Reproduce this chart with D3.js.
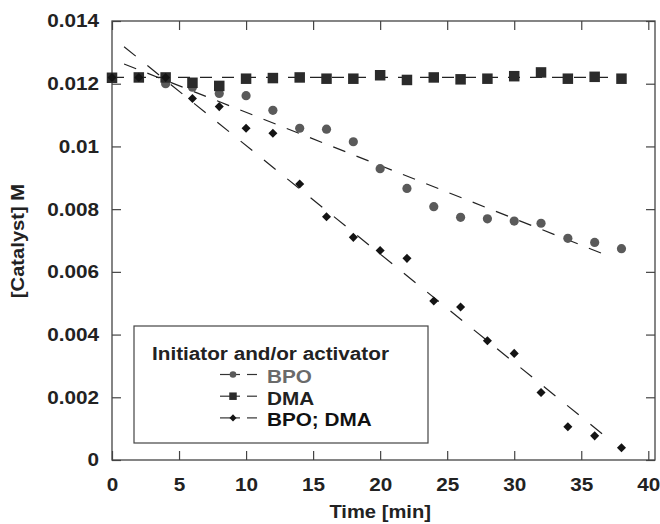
<!DOCTYPE html>
<head>
<meta charset="utf-8">
<style>
body { margin:0; background:#fff; }
text { font-family:'Liberation Sans', Arial, sans-serif; font-weight:700; fill:#222; }
.axis path.domain { display:none; }
.axis line { stroke:#444; stroke-width:1.2; }
</style>
</head>
<body>
<div id="chart1"></div>
<script src="https://d3js.org/d3.v7.min.js"></script>
<script>

// data
var times  = [0, 2, 4, 6, 8, 10, 12, 14, 16, 18, 20, 22, 24, 26, 28, 30, 32, 34, 36, 38];
var bpo    = [0.0122, 0.0122, 0.0120, 0.01189, 0.01169, 0.01162, 0.01115, 0.01058, 0.01055, 0.01015,
              0.00929, 0.00866, 0.00808, 0.00774, 0.00769, 0.00762, 0.00755, 0.00707, 0.00694, 0.00674];
var dma    = [0.01219, 0.0122, 0.0122, 0.01203, 0.01193, 0.01216, 0.01218, 0.0122, 0.01216, 0.01216,
              0.01227, 0.01212, 0.0122, 0.01214, 0.01216, 0.01224, 0.01236, 0.01216, 0.01222, 0.01216];
var bpoDma = [0.0122, 0.0122, 0.0122, 0.01153, 0.01127, 0.01058, 0.01042, 0.0088, 0.00776, 0.0071,
              0.00668, 0.00643, 0.00507, 0.00488, 0.0038, 0.0034, 0.00215, 0.00106, 0.00077, 0.00039];

// dashed fit lines, [time, conc]
var dmaFit    = [[0, 0.0122], [38.3, 0.0122]];
var bpoFit    = [[0.9, 0.01263], [37.3, 0.00646]];
var bpoDmaFit = [[0.9, 0.01318], [37.3, 0.00058]];

var xTicks = [0, 5, 10, 15, 20, 25, 30, 35, 40];
var yTicks = [0, 0.002, 0.004, 0.006, 0.008, 0.01, 0.012, 0.014];
var seriesNames = ["BPO", "DMA", "BPO; DMA"];

var W = 660, H = 524;
var plot = {left:112, right:655, top:21, bottom:460};
var stretch = "scale(1.12,1)";

var svg = d3.select('#chart1').append('svg')
    .attr('width', W).attr('height', H);

var xScale = d3.scaleLinear().domain([0, 40.5]).range([plot.left, plot.right]),
    yScale = d3.scaleLinear().domain([0, 0.014]).range([plot.bottom, plot.top]);

var fmt = function(d) { return String(+d.toFixed(3)); };

// axes, ticks pointing inward on all four sides
var gx = svg.append("g").attr("class", "axis")
    .attr("transform", "translate(0," + plot.bottom + ")")
    .call(d3.axisBottom(xScale).tickValues(xTicks).tickSizeInner(-9).tickSizeOuter(0).tickPadding(18));
gx.selectAll("text").attr("x", 0).attr("transform", stretch)
    .style("font-size", "18.5px").attr("fill", "#222");

var gy = svg.append("g").attr("class", "axis")
    .attr("transform", "translate(" + plot.left + ",0)")
    .call(d3.axisLeft(yScale).tickValues(yTicks).tickFormat(fmt).tickSizeInner(-9).tickSizeOuter(0));
gy.selectAll("text").attr("x", 0).attr("transform", "translate(-13,0) " + stretch)
    .style("font-size", "18.5px").attr("fill", "#222");

svg.append("g").attr("class", "axis")
    .attr("transform", "translate(0," + plot.top + ")")
    .call(d3.axisTop(xScale).tickValues(xTicks).tickSizeInner(-9).tickSizeOuter(0).tickFormat(""));

svg.append("g").attr("class", "axis")
    .attr("transform", "translate(" + plot.right + ",0)")
    .call(d3.axisRight(yScale).tickValues(yTicks).tickSizeInner(-9).tickSizeOuter(0).tickFormat(""));

svg.append("rect")
    .attr("x", plot.left).attr("y", plot.top)
    .attr("width", plot.right - plot.left).attr("height", plot.bottom - plot.top)
    .attr("fill", "none").attr("stroke", "#444").attr("stroke-width", 1.3);

// axis titles
svg.append("text")
    .attr("transform", "translate(" + xScale(20) + ",518) " + stretch)
    .attr("text-anchor", "middle")
    .style("font-size", "18px")
    .text("Time [min]");

svg.append("text")
    .attr("transform", "translate(24,241) rotate(-90) " + stretch)
    .attr("text-anchor", "middle")
    .style("font-size", "18px")
    .text("[Catalyst] M");

// fit lines
var line = d3.line()
    .x(function(d) { return xScale(d[0]); })
    .y(function(d) { return yScale(d[1]); });

[[dmaFit, "12,10"], [bpoFit, "13,12"], [bpoDmaFit, "15,15"]].forEach(function(f) {
  svg.append("path")
      .attr("d", line(f[0]))
      .attr("fill", "none")
      .attr("stroke", "#222")
      .attr("stroke-width", 1.2)
      .attr("stroke-dasharray", f[1]);
});

// markers
var circ = d3.symbol().type(d3.symbolCircle).size(Math.PI * 4.6 * 4.6),
    sq   = d3.symbol().type(d3.symbolSquare).size(10.5 * 10.5),
    dia  = d3.symbol().type(d3.symbolSquare).size(6.4 * 6.4);

function markers(vals, sym, color, cls, rot) {
  svg.selectAll("." + cls)
      .data(vals)
    .enter().append("path")
      .attr("class", cls)
      .attr("d", sym)
      .attr("fill", color)
      .attr("transform", function(d, i) {
        return "translate(" + xScale(times[i]) + "," + yScale(d) + ")" + (rot ? " rotate(45)" : "");
      });
}

markers(bpo, circ, "#5a5a5a", "m-bpo", false);
markers(dma, sq, "#2b2b2b", "m-dma", false);
markers(bpoDma, dia, "#141414", "m-bd", true);

// legend
var lg = svg.append("g");
lg.append("rect")
    .attr("x", 134).attr("y", 326).attr("width", 294).attr("height", 117)
    .attr("fill", "#fff").attr("stroke", "#444").attr("stroke-width", 1.2);

lg.append("text")
    .attr("transform", "translate(152,360) " + stretch)
    .style("font-size", "18.5px")
    .text("Initiator and/or activator");

var legSyms = [
  d3.symbol().type(d3.symbolCircle).size(Math.PI * 3.3 * 3.3),
  d3.symbol().type(d3.symbolSquare).size(7.5 * 7.5),
  d3.symbol().type(d3.symbolSquare).size(5 * 5)
];
var legColors = ["#5a5a5a", "#2b2b2b", "#141414"];
var legText = ["#6a6a6a", "#222", "#111"];

seriesNames.forEach(function(name, i) {
  var by = 383 + i * 21.7, cy = by - 8.5;
  lg.append("line")
      .attr("x1", 220).attr("x2", 240).attr("y1", cy).attr("y2", cy)
      .attr("stroke", "#333").attr("stroke-width", 1.2);
  lg.append("line")
      .attr("x1", 247).attr("x2", 257).attr("y1", cy).attr("y2", cy)
      .attr("stroke", "#333").attr("stroke-width", 1.2);
  lg.append("path")
      .attr("d", legSyms[i])
      .attr("fill", legColors[i])
      .attr("transform", "translate(233," + cy + ")" + (i == 2 ? " rotate(45)" : ""));
  lg.append("text")
      .attr("transform", "translate(267," + by + ") " + stretch)
      .style("font-size", "18.5px")
      .style("fill", legText[i])
      .text(name);
});

</script>
</body>
